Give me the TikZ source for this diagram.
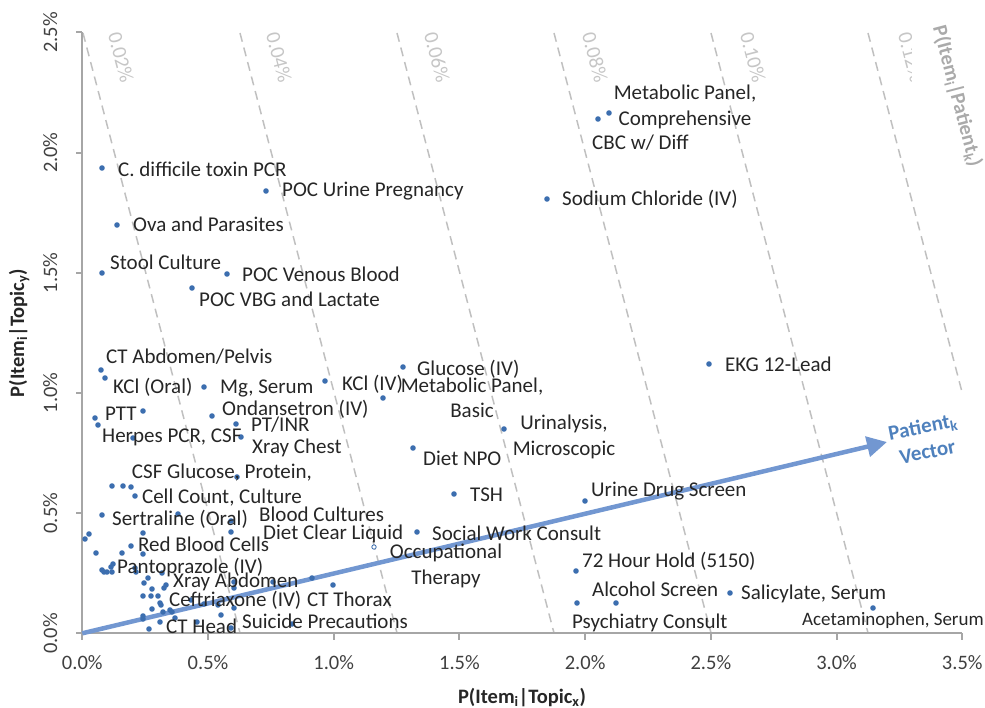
\documentclass[tikz,border=0pt]{standalone}
\usepackage{fontspec}
\setmainfont{Carlito}
\usepackage{tikz}
\usetikzlibrary{arrows.meta}
\definecolor{dotblue}{RGB}{60,110,175}
\definecolor{vecblue}{RGB}{114,151,209}
\definecolor{vectext}{RGB}{79,129,189}
\definecolor{isogray}{RGB}{192,192,192}
\definecolor{isotext}{RGB}{198,198,198}
\definecolor{plabgray}{RGB}{170,170,170}
\definecolor{axisgray}{RGB}{166,166,166}

\begin{document}
\begin{tikzpicture}[x=1pt, y=-1pt, every node/.style={font=\fontsize{20.5}{25.5}\selectfont},
    dot/.style={fill=dotblue},
    lab/.style={anchor=base west, inner sep=0pt, text=black!85, font=\fontsize{21}{25.5}\selectfont},
    lab2/.style={align=center, inner sep=0pt, text=black!85, font=\fontsize{21}{25.5}\selectfont},
    iso/.style={isogray, line width=1.5pt, dash pattern=on 9pt off 6pt},
    isolab/.style={rotate=-75.3, inner sep=0pt, text=isotext},
    axis/.style={axisgray, line width=2pt},
    ticklab/.style={anchor=base, inner sep=0pt, text=black!75},
    axtitle/.style={anchor=base, inner sep=0pt, text=black!85, font=\fontsize{20.5}{25.5}\selectfont\bfseries},
    vec/.style={-{Triangle[length=20pt,width=20pt]}, vecblue, line width=4.5pt}]
    \useasboundingbox (0,0) rectangle (985,708);
    % lines of equal P(Item|Patient)
    \foreach \k/\lab in {0/0.02,1/0.04,2/0.06,3/0.08,4/0.10} {
      \draw[iso] ({83+157*\k},33) -- ({240+157*\k},633);
      \node[isolab] (iso\k) at ({121+158*\k},57) {\lab\%};
    }
    \draw[iso] (868,33) -- (962,392);
    \begin{scope}
      \clip (880,20) rectangle (911,100);
      \node[isolab] (iso5) at (911,57) {0.12\%};
    \end{scope}
    \node[isolab, text=plabgray, font=\fontsize{20.5}{25.5}\selectfont\bfseries] (pklab) at (957,96) {P(Item\textsubscript{i}|Patient\textsubscript{k})};
    % axes
    \draw[axis] (82.3,32.5) -- (82.3,633.3) -- (962.3,633.3);
    \foreach \i/\t in {0/0.0,1/0.5,2/1.0,3/1.5,4/2.0,5/2.5} {
      \draw[axis] (76,{633.3-120.16*\i}) -- (82.3,{633.3-120.16*\i});
      \node[ticklab, rotate=90] (yt\i) at (57,{633.3-120.16*\i}) {\t\%};
    }
    \foreach \i/\t in {0/0.0,1/0.5,2/1.0,3/1.5,4/2.0,5/2.5,6/3.0,7/3.5} {
      \draw[axis] ({82.3+125.71*\i},633.3) -- ({82.3+125.71*\i},640);
      \node[ticklab] (xt\i) at ({82.3+125.71*\i},669) {\t\%};
    }
    \node[axtitle] (xtitle) at (522,703) {P(Item\textsubscript{i}|Topic\textsubscript{x})};
    \node[axtitle, rotate=90] (ytitle) at (24,333) {P(Item\textsubscript{i}|Topic\textsubscript{y})};
    % patient vector
    \coordinate (orig) at (82.3,633.3);
    \coordinate (tip) at (887,442);
    \draw[vec] (orig) -- (tip);
    \node[align=center, inner sep=0pt, rotate=11, text=vectext, font=\fontsize{21}{25.5}\selectfont\bfseries] (pvec) at (925,439) {Patient\textsubscript{k}\\Vector};
    % items
    \foreach \x/\y in {102/168,266/191,117/225,598/119,609/113,547/199,102/273,227/274,192/288,
        101/370,105/378,204/387,325/381,403/367,383/398,709/364,143/411,95/418,98/425,133/438,
        212/416,236/424,241/437,504/429,413/448,237/477,112/486,123/486,131/487,135/496,
        454/494,585/501,102/515,178/514,231/521,231/532,417/532,85/539,89/534,96/553,122/553,
        131/546,143/533,143/554,576/571,577/603,616/603,730/593,873/608,
        102/570,104/572,107/572,111/567,113/564,112/572,135/568,136/572,162/573,144/583,148/578,
        166/585,164/588,152/589,143/596,151/596,158/596,160/603,161/605,152/609,163/612,170/610,
        172/612,143/616,143/619,160/622,149/629,175/618,191/600,197/622,204/604,218/605,221/615,
        231/628,234/608,234/588,234/582,273/582,312/578,292/624,333/585}
      \fill[dot] (\x,\y) circle[radius=2.8pt];
    \draw[dotblue, fill=white, line width=0.8pt] (374,547) circle[radius=2.2pt];
    % item labels
    \node[lab] (cdiff) at (118,177) {C. difficile toxin PCR};
    \node[lab] (pocup) at (282,197) {POC Urine Pregnancy};
    \node[lab] (ova) at (133,232) {Ova and Parasites};
    \node[lab2] (cmp) at (685,107) {Metabolic Panel,\\Comprehensive};
    \node[lab] (cbc) at (592,150) {CBC w/ Diff};
    \node[lab] (nacl) at (562,206) {Sodium Chloride (IV)};
    \node[lab] (stool) at (110,270) {Stool Culture};
    \node[lab] (vbg) at (242,282) {POC Venous Blood};
    \node[lab] (vbglac) at (199,307) {POC VBG and Lactate};
    \node[lab] (ctap) at (106,364) {CT Abdomen/Pelvis};
    \node[lab] (kclpo) at (113,393) {KCl (Oral)};
    \node[lab] (mg) at (220,393) {Mg, Serum};
    \node[lab] (kcliv) at (342,390) {KCl (IV)};
    \node[lab] (gluc) at (417,375) {Glucose (IV)};
    \node[lab2] (bmp) at (472,398) {Metabolic Panel,\\Basic};
    \node[lab] (ekg) at (725,372) {EKG 12-Lead};
    \node[lab] (ptt) at (105,420) {PTT};
    \node[lab] (hsv) at (102,442) {Herpes PCR, CSF};
    \node[lab] (ondan) at (222,415) {Ondansetron (IV)};
    \node[lab] (inr) at (251,431) {PT/INR};
    \node[lab] (cxr) at (252,453) {Xray Chest};
    \node[lab2] (csf) at (222,485) {CSF Glucose, Protein,\\Cell Count, Culture};
    \node[lab2] (ua) at (564,437) {Urinalysis,\\Microscopic};
    \node[lab] (npo) at (423,465) {Diet NPO};
    \node[lab] (tsh) at (470,501) {TSH};
    \node[lab] (uds) at (591,496) {Urine Drug Screen};
    \node[lab] (sert) at (112,525) {Sertraline (Oral)};
    \node[lab] (bcx) at (259,521) {Blood Cultures};
    \node[lab] (clr) at (263,539) {Diet Clear Liquid};
    \node[lab] (sw) at (432,540) {Social Work Consult};
    \node[lab] (rbc) at (138,551) {Red Blood Cells};
    \node[lab2] (ot) at (446,566) {Occupational\\Therapy};
    \node[lab] (ppi) at (117,573) {Pantoprazole (IV)};
    \node[lab] (kub) at (173,587) {Xray Abdomen};
    \node[lab] (ctx) at (169,606) {Ceftriaxone (IV)};
    \node[lab] (ctt) at (307,606) {CT Thorax};
    \node[lab] (cth) at (166,633) {CT Head};
    \node[lab] (sui) at (242,628) {Suicide Precautions};
    \node[lab] (hold) at (582,567) {72 Hour Hold (5150)};
    \node[lab] (etoh) at (592,596) {Alcohol Screen};
    \node[lab] (psych) at (572,628) {Psychiatry Consult};
    \node[lab] (asa) at (741,599) {Salicylate, Serum};
    \node[lab, font=\fontsize{19}{23}\selectfont] (apap) at (802,625) {Acetaminophen, Serum};
\end{tikzpicture}
\end{document}
